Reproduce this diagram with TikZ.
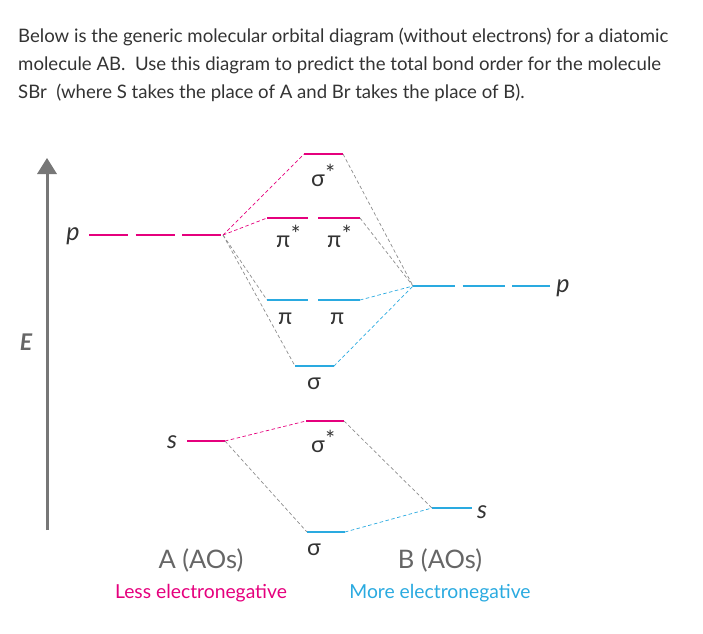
\documentclass[tikz,border=0pt]{standalone}
\usepackage{fontspec}
\setmainfont{Lato}
\definecolor{mag}{HTML}{E5007D}
\definecolor{cyn}{HTML}{2AAAE0}
\definecolor{gline}{HTML}{8C8C8C}
\definecolor{txt}{HTML}{333333}
\definecolor{axisgray}{HTML}{777777}
\definecolor{aolbl}{HTML}{666666}
\begin{document}
\begin{tikzpicture}[x=1pt,y=-1pt,
  lvl/.style={line width=1.7pt},
  conn/.style={line width=0.7pt, dash pattern=on 3.5pt off 2.5pt},
  ttl/.style={anchor=base west, inner sep=0pt, text=txt, font=\fontsize{18.6}{22}\selectfont},
  mo/.style={inner sep=0pt, text=txt, font=\fontsize{23}{26}\selectfont},
  ao/.style={inner sep=0pt, text=txt, font=\fontsize{25}{27}\selectfont\itshape},
  grp/.style={inner sep=0pt, font=\fontsize{25.5}{28}\selectfont, text=aolbl},
  sub/.style={inner sep=0pt, font=\fontsize{19.3}{22}\selectfont}]
\newcommand{\strs}{\kern0.5pt\raisebox{0.2em}{*}}
\useasboundingbox (0,0) rectangle (703,633);
% title
\node[ttl] (t1) at (18,42) {Below is the generic molecular orbital diagram (without electrons) for a diatomic};
\node[ttl] (t2) at (18,70) {molecule AB.\ \ Use this diagram to predict the total bond order for the molecule};
\node[ttl] (t3) at (18,98) {SBr\ \ (where S takes the place of A and Br takes the place of B).};
% energy axis
\draw[axisgray, line width=3pt] (47,530) -- (47,171);
\fill[axisgray] (47,158) -- (57,174) -- (37,174) -- cycle;
\node[inner sep=0pt, text=aolbl, font=\fontsize{23}{26}\selectfont\bfseries\itshape] (E) at (26,342) {E};
% coordinates of levels
\coordinate (pLa) at (89,235);   \coordinate (pLb) at (223,235);
\coordinate (pRa) at (413,286);  \coordinate (pRb) at (550,286);
\coordinate (sLa) at (187,441);  \coordinate (sLb) at (225,441);
\coordinate (sRa) at (432,508);  \coordinate (sRb) at (472,508);
\coordinate (ssa) at (304,154);  \coordinate (ssb) at (343,154);
\coordinate (pi1a) at (267,218); \coordinate (pi1b) at (308,218);
\coordinate (pi2a) at (318,218); \coordinate (pi2b) at (360,218);
\coordinate (pb1a) at (267,300); \coordinate (pb1b) at (308,300);
\coordinate (pb2a) at (318,300); \coordinate (pb2b) at (360,300);
\coordinate (sga) at (295,366);  \coordinate (sgb) at (334,366);
\coordinate (s2sa) at (306,421); \coordinate (s2sb) at (344,421);
\coordinate (s2ga) at (307,532); \coordinate (s2gb) at (345,532);
% connectors
\draw[conn, mag] (pLb) -- (ssa);
\draw[conn, mag] (pLb) -- (pi1a);
\draw[conn, gline] (pLb) -- (pb1a);
\draw[conn, gline] (pLb) -- (sga);
\draw[conn, gline] (ssb) -- (pRa);
\draw[conn, gline] (pi2b) -- (pRa);
\draw[conn, cyn] (pb2b) -- (pRa);
\draw[conn, cyn] (sgb) -- (pRa);
\draw[conn, mag] (sLb) -- (s2sa);
\draw[conn, gline] (sLb) -- (s2ga);
\draw[conn, gline] (s2sb) -- (sRa);
\draw[conn, cyn] (s2gb) -- (sRa);
% levels
\draw[lvl, mag, dash pattern=on 39pt off 7.5pt] (pLa) -- (pLb);
\draw[lvl, cyn, dash pattern=on 42pt off 7.5pt] (pRa) -- (pRb);
\draw[lvl, mag] (sLa) -- (sLb);
\draw[lvl, cyn] (sRa) -- (sRb);
\draw[lvl, mag] (ssa) -- (ssb);
\draw[lvl, mag] (pi1a) -- (pi1b);
\draw[lvl, mag] (pi2a) -- (pi2b);
\draw[lvl, cyn] (pb1a) -- (pb1b);
\draw[lvl, cyn] (pb2a) -- (pb2b);
\draw[lvl, cyn] (sga) -- (sgb);
\draw[lvl, mag] (s2sa) -- (s2sb);
\draw[lvl, cyn] (s2ga) -- (s2gb);
% labels
\node[ao] (lpL) at (73,236) {p};
\node[ao] (lpR) at (563,288) {p};
\node[ao] (lsL) at (172,442) {s};
\node[ao] (lsR) at (482,512) {s};
\node[mo, anchor=base west] (l1) at (311,186) {σ\strs};
\node[mo, anchor=base west] (l2) at (276,247) {π\strs};
\node[mo, anchor=base west] (l3) at (327,247) {π\strs};
\node[mo, anchor=base west] (l4) at (278,324) {π};
\node[mo, anchor=base west] (l5) at (330,324) {π};
\node[mo, anchor=base west] (l6) at (307,389) {σ};
\node[mo, anchor=base west] (l7) at (311,452) {σ\strs};
\node[mo, anchor=base west] (l8) at (307,555) {σ};
\node[grp] (A) at (201,560) {A (AOs)};
\node[grp] (B) at (440,560) {B (AOs)};
\node[sub, text=mag] (Al) at (201,593) {Less electronegative};
\node[sub, text=cyn] (Bl) at (440,593) {More electronegative};
\end{tikzpicture}
\end{document}
